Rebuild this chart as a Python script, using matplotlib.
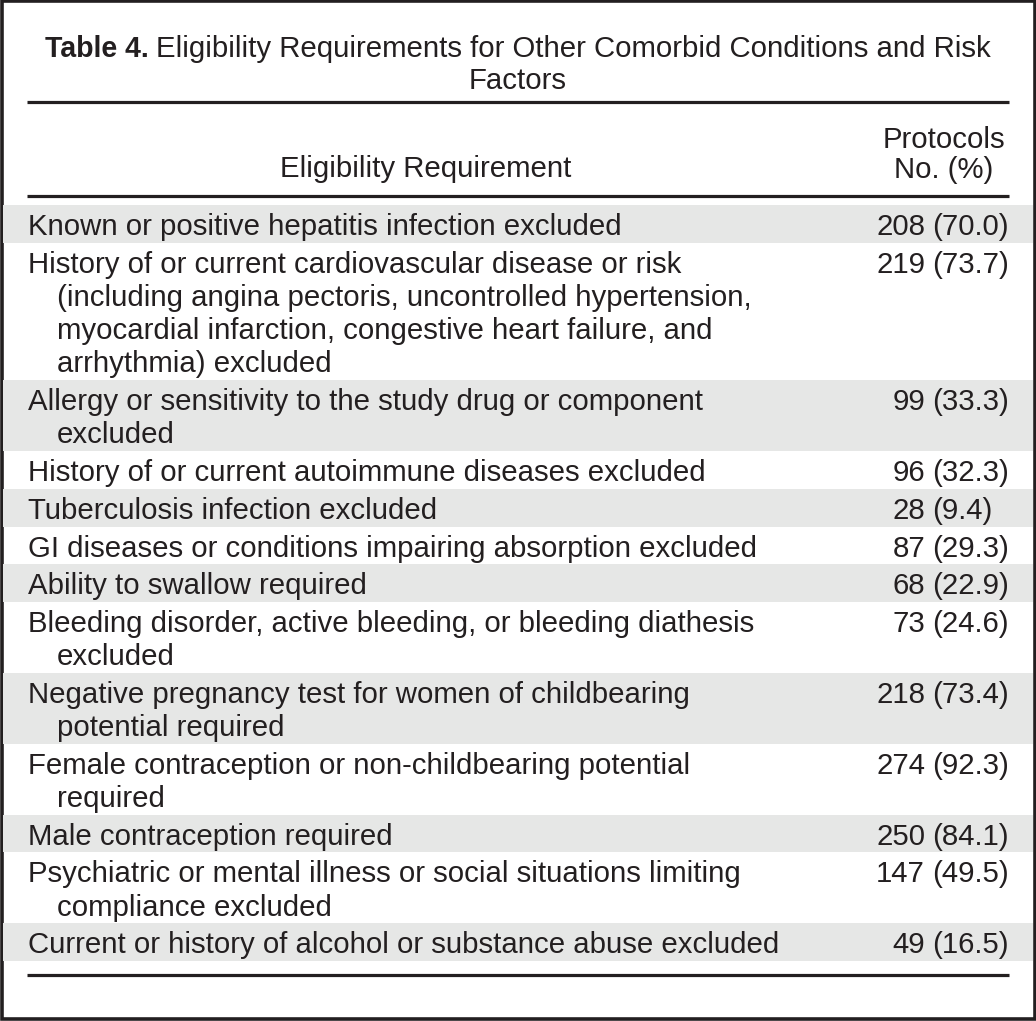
import matplotlib
matplotlib.use("Agg")
import matplotlib.pyplot as plt
from matplotlib.patches import Rectangle

# table data
title_bold = "Table 4."
title_rest = "Eligibility Requirements for Other Comorbid Conditions and Risk"
title_line2 = "Factors"
col_head = "Eligibility Requirement"
val_head = "Protocols\nNo. (%)"

requirements = [
    "Known or positive hepatitis infection excluded",
    "History of or current cardiovascular disease or risk\n(including angina pectoris, uncontrolled hypertension,\nmyocardial infarction, congestive heart failure, and\narrhythmia) excluded",
    "Allergy or sensitivity to the study drug or component\nexcluded",
    "History of or current autoimmune diseases excluded",
    "Tuberculosis infection excluded",
    "GI diseases or conditions impairing absorption excluded",
    "Ability to swallow required",
    "Bleeding disorder, active bleeding, or bleeding diathesis\nexcluded",
    "Negative pregnancy test for women of childbearing\npotential required",
    "Female contraception or non-childbearing potential\nrequired",
    "Male contraception required",
    "Psychiatric or mental illness or social situations limiting\ncompliance excluded",
    "Current or history of alcohol or substance abuse excluded",
]
counts = [208, 219, 99, 96, 28, 87, 68, 73, 218, 274, 250, 147, 49]
pcts = [70.0, 73.7, 33.3, 32.3, 9.4, 29.3, 22.9, 24.6, 73.4, 92.3, 84.1, 49.5, 16.5]

INK = "#231f20"
SHADE = "#e6e7e6"
FONT = "Liberation Sans"

W, H = 1036, 1021
fig = plt.figure(figsize=(W / 100, H / 100), dpi=100)
ax = fig.add_axes([0, 0, 1, 1])
ax.set_xlim(0, W)
ax.set_ylim(H, 0)
ax.axis("off")

# pick a font size so the last row spans about as wide as in the original (~750 px)
fig.canvas.draw()
r = fig.canvas.get_renderer()
probe = ax.text(0, 0, requirements[-1], fontfamily=FONT, fontsize=20)
FS = 20 * 750 / probe.get_window_extent(r).width
probe.remove()

# outer frame
ax.add_patch(Rectangle((1.5, 1.5), W - 3, H - 3.5, fill=False, ec=INK, lw=2.6))

def txt(x, y, s, **kw):
    kw.setdefault("ha", "left")
    kw.setdefault("va", "baseline")
    kw.setdefault("fontsize", FS)
    return ax.text(x, y, s, fontfamily=FONT, color=INK, **kw)

# title: bold label + regular text centred as one line
tb = txt(0, 57, title_bold + " ", fontweight="bold", fontsize=FS * 0.97)
tr = txt(0, 57, title_rest)
wb = tb.get_window_extent(r).width
wr = tr.get_window_extent(r).width
x0 = 518 - (wb + wr) / 2
tb.set_x(x0)
tr.set_x(x0 + wb)
txt(518, 89, title_line2, ha="center")

xl, xr = 27, 1009
ax.plot([xl, xr], [102, 102], color=INK, lw=2.3, solid_capstyle="butt")
txt(426, 177, col_head, ha="center")
txt(944, 178, val_head, ha="center", multialignment="center", linespacing=1.1)
ax.plot([xl, xr], [196.5, 196.5], color=INK, lw=2.3, solid_capstyle="butt")

# body rows
y = 205
base, pitch = 37.7, 33.25
for i, (req, n, p) in enumerate(zip(requirements, counts, pcts)):
    lines = req.split("\n")
    h = base + pitch * (len(lines) - 1)
    if i % 2 == 0:
        ax.add_patch(Rectangle((3, y), W - 6, h, color=SHADE, lw=0))
    for k, line in enumerate(lines):
        txt(28 if k == 0 else 57, y + 30 + pitch * k, line)
    txt(925, y + 30, f"{n}", ha="right")
    txt(932, y + 30, f"({p:.1f})")
    y += h

ax.plot([xl, xr], [y + 13.5, y + 13.5], color=INK, lw=2.3, solid_capstyle="butt")

fig.savefig("out.png", dpi=100, facecolor="white")
